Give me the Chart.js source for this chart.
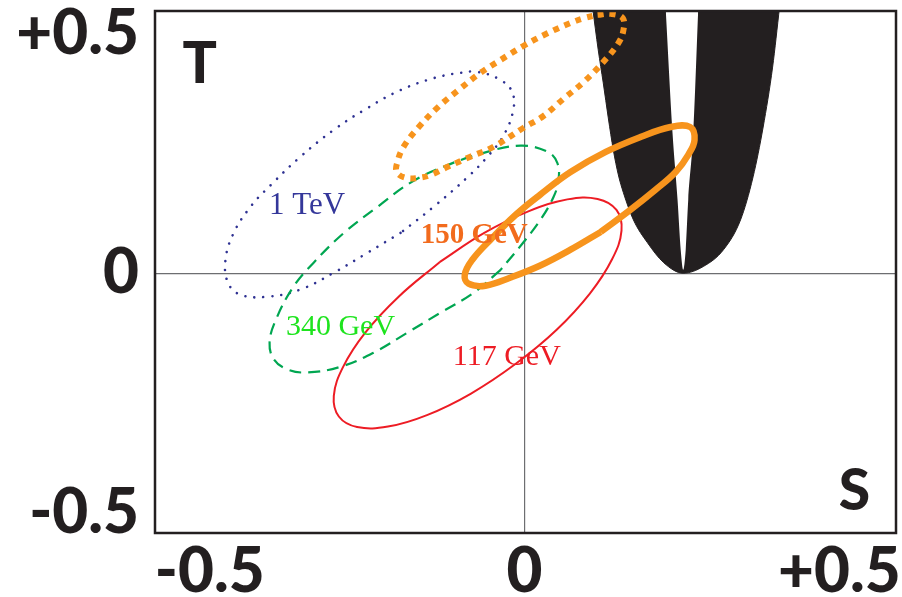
<!DOCTYPE html>
<html>
<head>
<meta charset="utf-8">
<title>S-T ellipses</title>
<script src="https://cdn.jsdelivr.net/npm/chart.js@4.4.1/dist/chart.umd.min.js"></script>
<style>
  html, body { margin: 0; padding: 0; background: #fff; }
  canvas { display: block; }
</style>
</head>
<body>
<canvas id="stChart" width="902" height="597"></canvas>
<script>
/* ── 1. DATA ──────────────────────────────────── */

const X_TICKS = [-0.5, 0, 0.5];
const Y_TICKS = [-0.5, 0, 0.5];

// 117 GeV (red, solid)
const S_117 = [-0.135, -0.064, 0.006, 0.068, 0.116, 0.146, 0.154, 0.139, 0.104, 0.051, -0.014, -0.085, -0.155,
               -0.217, -0.266, -0.295, -0.303, -0.288, -0.253, -0.200];
const T_117 = [0.023, 0.084, 0.129, 0.154, 0.155, 0.132, 0.089, 0.029, -0.042, -0.118, -0.189, -0.251, -0.296,
               -0.320, -0.321, -0.299, -0.256, -0.195, -0.124, -0.049];

// 150 GeV (orange, thick solid)
const S_150 = [0.121, 0.073, 0.025, -0.022, -0.062, -0.089, -0.095, -0.083, -0.054, -0.014, 0.025, 0.073, 0.129,
               0.184, 0.232, 0.263, 0.270, 0.260, 0.240, 0.208, 0.168];
const T_150 = [0.086, 0.049, 0.016, -0.009, -0.026, -0.022, -0.003, 0.028, 0.070, 0.122, 0.164, 0.211, 0.253,
               0.284, 0.305, 0.305, 0.278, 0.247, 0.211, 0.174, 0.132];

// orange dotted (no label)
const S_DOT = [0.116, 0.137, 0.156, 0.157, 0.149, 0.124, 0.094, 0.062, 0.030, -0.002, -0.049, -0.086, -0.122, -0.149,
               -0.168, -0.189, -0.203, -0.202, -0.192, -0.168, -0.137, -0.105, -0.070, -0.038, -0.002, 0.037, 0.073, 0.094];
const T_DOT = [0.539, 0.541, 0.532, 0.507, 0.480, 0.439, 0.399, 0.364, 0.328, 0.303, 0.264, 0.243, 0.222, 0.205,
               0.199, 0.199, 0.211, 0.232, 0.264, 0.305, 0.347, 0.382, 0.418, 0.445, 0.474, 0.501, 0.522, 0.532];

// 1 TeV (navy, dotted)
const S_1TEV = [-0.197, -0.249, -0.303, -0.356, -0.408, -0.451, -0.471, -0.475, -0.462, -0.435, -0.403, -0.356, -0.303,
                -0.249, -0.197, -0.144, -0.102, -0.075, -0.038, -0.019, -0.019, -0.035, -0.059, -0.090, -0.144];
const T_1TEV = [0.084, 0.043, 0.001, -0.034, -0.049, -0.045, -0.020, 0.028, 0.084, 0.139, 0.184, 0.243, 0.299,
                0.345, 0.382, 0.407, 0.418, 0.420, 0.403, 0.376, 0.334, 0.284, 0.243, 0.201, 0.139];

// 340 GeV (green, dashed)
const S_340 = [-0.038, -0.081, -0.133, -0.186, -0.240, -0.292, -0.344, -0.376, -0.398, -0.405, -0.395, -0.367, -0.335,
               -0.287, -0.233, -0.181, -0.129, -0.065, -0.006, 0.037, 0.052, 0.054, 0.046, 0.025, -0.002];
const T_340 = [0.007, -0.041, -0.082, -0.124, -0.166, -0.195, -0.207, -0.201, -0.180, -0.145, -0.097, -0.028, 0.022,
               0.084, 0.139, 0.189, 0.222, 0.251, 0.266, 0.253, 0.230, 0.195, 0.159, 0.111, 0.064];

// black band: outer edge and inner white wedge
const S_BAND = [0.108, 0.117, 0.125, 0.133, 0.141, 0.149, 0.157, 0.173, 0.195, 0.221, 0.252,
                0.284, 0.316, 0.343, 0.363, 0.379, 0.394, 0.405];
const T_BAND = [0.555, 0.466, 0.397, 0.324, 0.257, 0.205, 0.168, 0.111, 0.064, 0.022, 0.000,
                0.014, 0.049, 0.111, 0.201, 0.305, 0.430, 0.555];
const S_GAP = [0.224, 0.235, 0.243, 0.248, 0.252, 0.256, 0.260, 0.268, 0.276];
const T_GAP = [0.555, 0.293, 0.153, 0.049, 0.007, 0.049, 0.153, 0.293, 0.555];

// curve labels, anchored at (S, T) of text start / baseline
const CURVE_LABELS = ['1 TeV', '340 GeV', '117 GeV', '150 GeV'];
const LABEL_S = [-0.406, -0.379, -0.114, -0.165];
const LABEL_T = [0.124, -0.128, -0.191, 0.064];

/* ── 2. HELPERS ───────────────────────────────── */

const INK = '#231f20';
const BIG_FONT = 'Lato';

function closed(S, T) {
  const p = S.map((s, i) => ({ x: s, y: T[i] }));
  p.push(p[0]);
  return p;
}

function open(S, T) {
  return S.map((s, i) => ({ x: s, y: T[i] }));
}

function ring(S, T, color, width, dash, cap) {
  return {
    data: closed(S, T),
    showLine: true,
    borderColor: color,
    borderWidth: width,
    borderDash: dash,
    borderCapStyle: cap || 'butt',
    pointRadius: 0,
    tension: 0.4,
    fill: false
  };
}

function fmtTick(v) {
  if (v === 0) return '0';
  return (v > 0 ? '+' : '-') + Math.abs(v);
}

const zeroGrid = c => (c.tick && c.tick.value === 0) ? '#6d6e71' : 'rgba(0,0,0,0)';

// stop Chart.js from reserving room for overhanging tick labels
function noPad(s) {
  s.paddingTop = 0; s.paddingBottom = 0;
  s.paddingLeft = 0; s.paddingRight = 0;
}

/* ── 3. OVERLAY (labels + frame) ──────────────── */

const overlay = {
  id: 'overlay',
  afterDatasetsDraw(chart) {
    const { ctx, chartArea: a, scales: { x, y } } = chart;
    ctx.save();
    ctx.textBaseline = 'alphabetic';
    ctx.textAlign = 'left';
    const fonts  = ['31px "Liberation Serif"', '30px "Liberation Serif"', '30px "Liberation Serif"', 'bold 29px "Liberation Serif"'];
    const colors = ['#34379a', '#1ee41e', '#ed1c24', '#f26b1d'];
    CURVE_LABELS.forEach((t, i) => {
      ctx.font = fonts[i];
      ctx.fillStyle = colors[i];
      ctx.fillText(t, x.getPixelForValue(LABEL_S[i]), y.getPixelForValue(LABEL_T[i]));
    });

    // axis letters inside the frame
    ctx.font = `900 57px ${BIG_FONT}`;
    ctx.fillStyle = INK;
    ctx.textAlign = 'center';
    ctx.fillText('T', x.getPixelForValue(-0.516), y.getPixelForValue(0.397));
    ctx.fillText('S', x.getPixelForValue(0.524), y.getPixelForValue(-0.495));

    ctx.strokeStyle = INK;
    ctx.lineWidth = 2.5;
    ctx.strokeRect(a.left, a.top, a.width, a.height);
    ctx.restore();
  }
};

/* ── 4. CHART ─────────────────────────────────── */

const tickFont = { family: BIG_FONT, weight: 900, size: 62 };

new Chart(document.getElementById('stChart'), {
  type: 'scatter',
  data: {
    datasets: [
      ring(S_150, T_150, '#f7941d', 6.5),
      ring(S_DOT, T_DOT, '#f7941d', 6, [6, 6]),
      ring(S_117, T_117, '#ed1c24', 2),
      ring(S_340, T_340, '#00a651', 2.2, [12, 7]),
      ring(S_1TEV, T_1TEV, '#2e3192', 2.6, [0.01, 9], 'round'),
      {
        data: open(S_GAP, T_GAP), showLine: true, pointRadius: 0,
        borderColor: 'rgba(0,0,0,0)', borderWidth: 1,
        cubicInterpolationMode: 'monotone',
        fill: 'end', backgroundColor: '#ffffff'
      },
      {
        data: open(S_BAND, T_BAND), showLine: true, pointRadius: 0,
        borderColor: INK, borderWidth: 1,
        cubicInterpolationMode: 'monotone',
        fill: 'end', backgroundColor: INK
      }
    ]
  },
  options: {
    responsive: false,
    animation: false,
    devicePixelRatio: 1,
    layout: { padding: { top: 11, right: 6, left: 0, bottom: 0 } },
    plugins: { legend: { display: false }, tooltip: { enabled: false } },
    scales: {
      x: {
        type: 'linear', min: -0.587, max: 0.59,
        afterBuildTicks: s => { s.ticks = X_TICKS.map(v => ({ value: v })); },
        afterFit: s => { s.height = 64; noPad(s); },
        grid: { color: zeroGrid, lineWidth: 1.2, drawTicks: false },
        border: { display: false },
        ticks: { font: tickFont, color: INK, padding: 2, maxRotation: 0, autoSkip: false, callback: fmtTick }
      },
      y: {
        type: 'linear', min: -0.542, max: 0.547,
        afterBuildTicks: s => { s.ticks = Y_TICKS.map(v => ({ value: v })); },
        afterFit: s => { s.width = 155; noPad(s); },
        grid: { color: zeroGrid, lineWidth: 1.2, drawTicks: false },
        border: { display: false },
        ticks: { font: tickFont, color: INK, padding: 16, autoSkip: false, callback: fmtTick }
      }
    }
  },
  plugins: [overlay]
});
</script>
</body>
</html>
